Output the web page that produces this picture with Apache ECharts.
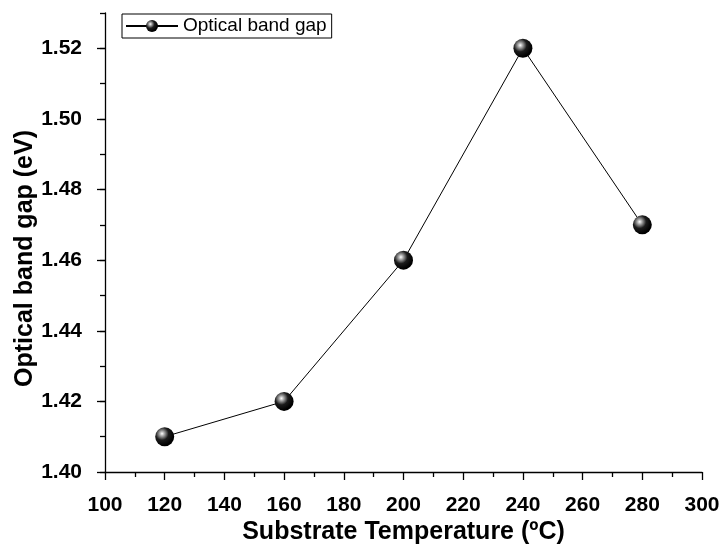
<!DOCTYPE html>
<html>
<head>
<meta charset="utf-8">
<script src="https://cdn.jsdelivr.net/npm/echarts@6/dist/echarts.min.js"></script>
<style>
  html, body { margin: 0; padding: 0; background: #fff; }
  #chart { width: 722px; height: 544px; }
</style>
</head>
<body>
<div id="chart"></div>
<script>
// Substrate temperature (ºC) and the measured optical band gap (eV)
const temperatures = [120, 160, 200, 240, 280];
const bandGap = [1.41, 1.42, 1.46, 1.52, 1.47];
const yMajorTicks = [1.40, 1.42, 1.44, 1.46, 1.48, 1.50, 1.52];
const seriesName = 'Optical band gap';

const FONT = '"Liberation Sans", Arial, sans-serif';

// glossy black sphere used for the markers
const sphere = {
  type: 'radial', x: 0.36, y: 0.34, r: 0.62,
  colorStops: [
    { offset: 0, color: '#ffffff' },
    { offset: 0.22, color: '#a0a0a0' },
    { offset: 0.55, color: '#1c1c1c' },
    { offset: 1, color: '#000000' }
  ]
};

const chart = echarts.init(document.getElementById('chart'), null, { renderer: 'canvas' });

chart.setOption({
  backgroundColor: '#ffffff',
  animation: false,
  grid: { left: 105, right: 20, top: 13, bottom: 72, containLabel: false, outerBoundsMode: 'none' },
  legend: {
    left: 122, top: 14,
    padding: [2, 5, 2, 3],
    borderColor: '#000', borderWidth: 1,
    itemWidth: 52, itemHeight: 15,
    textStyle: { fontFamily: FONT, fontSize: 19, color: '#000', lineHeight: 20 },
    data: [seriesName]
  },
  xAxis: {
    type: 'value',
    min: 100, max: 300, interval: 20,
    name: 'Substrate Temperature (ºC)',
    nameLocation: 'middle', nameGap: 48, nameMoveOverlap: false,
    nameTextStyle: { fontFamily: FONT, fontSize: 25, fontWeight: 'bold', color: '#000' },
    axisLine: { show: true, onZero: false, lineStyle: { color: '#000', width: 1.3 } },
    axisTick: { show: true, inside: false, length: 8, lineStyle: { color: '#000', width: 1.3 } },
    minorTick: { show: true, splitNumber: 2, length: 5, lineStyle: { color: '#000', width: 1.3 } },
    axisLabel: { margin: 23, fontFamily: FONT, fontSize: 21, fontWeight: 'bold', color: '#000' },
    splitLine: { show: false }
  },
  yAxis: [
    {
      type: 'value',
      min: 1.40, max: 1.53, interval: 0.02,
      position: 'left',
      name: 'Optical band gap (eV)',
      nameLocation: 'middle', nameGap: 67, nameMoveOverlap: false,
      nameTextStyle: { fontFamily: FONT, fontSize: 25, fontWeight: 'bold', color: '#000', padding: [0, 32, 0, 0] },
      axisLine: { show: true, onZero: false, lineStyle: { color: '#000', width: 1.3 } },
      axisTick: { show: true, inside: false, length: 8, customValues: yMajorTicks, lineStyle: { color: '#000', width: 1.3 } },
      axisLabel: {
        margin: 23, fontFamily: FONT, fontSize: 21, fontWeight: 'bold', color: '#000',
        customValues: yMajorTicks,
        formatter: v => v.toFixed(2)
      },
      splitLine: { show: false }
    },
    {
      // minor ticks every 0.01 on the same left edge
      type: 'value',
      min: 1.40, max: 1.53, interval: 0.01,
      position: 'left', offset: 0,
      axisLine: { show: false },
      axisTick: { show: true, inside: false, length: 5, lineStyle: { color: '#000', width: 1.3 } },
      axisLabel: { show: false },
      splitLine: { show: false }
    }
  ],
  series: [
    {
      name: seriesName,
      type: 'line',
      yAxisIndex: 0,
      data: temperatures.map((t, i) => [t, bandGap[i]]),
      symbol: 'circle',
      symbolSize: 19,
      showAllSymbol: true,
      lineStyle: { color: '#000', width: 1 },
      itemStyle: { color: sphere, borderWidth: 0 },
      z: 3
    }
  ]
});
</script>
</body>
</html>
